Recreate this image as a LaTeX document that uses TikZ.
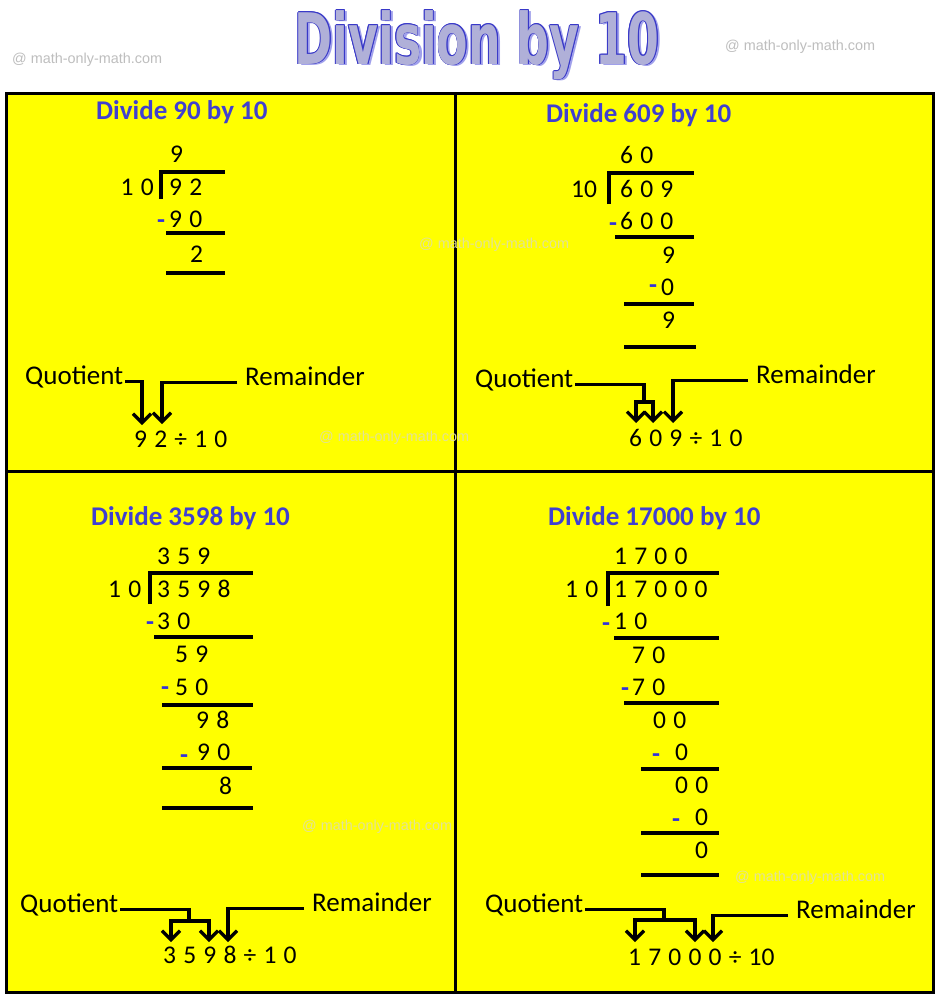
\documentclass[tikz,border=0pt]{standalone}
\usepackage{fontspec}
\setmainfont{Carlito}
\newfontfamily\dejavubold{DejaVu Sans}
\newfontfamily\wmfamily{Liberation Sans}
\usetikzlibrary{arrows.meta}
\definecolor{titleblue}{RGB}{64,64,208}
\definecolor{minusblue}{RGB}{50,50,220}
\definecolor{tfill}{RGB}{176,176,216}
\definecolor{toutline}{RGB}{56,56,200}
\definecolor{tshadow}{RGB}{160,160,235}
\definecolor{wmgray}{RGB}{190,190,190}
\definecolor{wmyellow}{RGB}{226,226,150}
\definecolor{panelyellow}{RGB}{255,255,0}
\newcommand{\numfont}{\fontsize{25.5}{30}\selectfont\spaceskip=7.2pt\relax}
\newcommand{\lblfont}{\fontsize{27}{30}\selectfont}
\newcommand{\ttlfont}{\bfseries\fontsize{27}{32}\selectfont}
\newcommand{\minfont}{\bfseries\fontsize{26}{30}\selectfont}
\newcommand{\wmfont}{\wmfamily\fontsize{14.4}{16}\selectfont}
\newcommand{\bigtitle}{\scalebox{0.645}[1]{\dejavubold\bfseries\fontsize{71}{80}\selectfont Division by 10}}
\tikzset{
  num/.style={anchor=base west, inner sep=0pt, font=\numfont},
  lbl/.style={anchor=base west, inner sep=0pt, font=\lblfont},
  ttl/.style={anchor=base west, inner sep=0pt, font=\ttlfont, text=titleblue},
  minus/.style={anchor=base west, inner sep=0pt, font=\minfont, text=minusblue, yshift=-6pt},
  rulebar/.style={line width=3.1pt},
  conn/.style={line width=3.3pt},
  tip/.style={-{Straight Barb[length=9pt,width=18pt]}},
  wm/.style={anchor=west, inner sep=0pt, font=\wmfont},
  big/.style={anchor=base, inner sep=0pt}
}
\begin{document}
\begin{tikzpicture}[x=1pt,y=-1pt]
\useasboundingbox (0,0) rectangle (938,998);
\fill[white] (0,0) rectangle (938,998);

% ---------- heading ----------
\node[wm, text=wmgray] (wm1) at (12,60) {@ math-only-math.com};
\node[wm, text=wmgray] (wm2) at (725,47) {@ math-only-math.com};
\node[big, text=tshadow] (tsh) at (480,66) {\bigtitle};
\foreach \dx/\dy in {0.9/0,-0.9/0,0/0.9,0/-0.9,0.65/0.65,0.65/-0.65,-0.65/0.65,-0.65/-0.65}{
  \node[big, text=toutline] at (477+\dx,64+\dy) {\bigtitle};
}
\node[big, text=tfill] (title) at (477,64) {\bigtitle};

% ---------- panels ----------
\fill[panelyellow] (6.5,93.5) rectangle (933.5,992);
\draw[line width=3pt] (6.5,93.5) rectangle (933.5,992);
\draw[line width=3pt] (455.5,93.5) -- (455.5,992);
\draw[line width=3pt] (6.5,471) -- (933.5,471);

% watermarks on yellow
\node[wm, text=wmyellow] (wm3) at (419,245) {@ math-only-math.com};
\node[wm, text=wmyellow] (wm4) at (319,438) {@ math-only-math.com};
\node[wm, text=wmyellow] (wm5) at (302,827) {@ math-only-math.com};
\node[wm, text=wmyellow] (wm6) at (735,878) {@ math-only-math.com};

% ---------- panel 1 ----------
\node[ttl] (h1) at (96,119) {Divide 90 by 10};
\node[num] (qt1) at (170,162) {9};
\node[num] (dv1) at (120.5,195) {1 0};
\node[num] (dd1) at (169,195) {9 2};
\node[minus] (m1a) at (157,222) {-};
\node[num] (s1a) at (169,227) {9 0};
\node[num] (r1a) at (190,262) {2};
\draw[rulebar] (161,199) -- (161,172) -- (225,172);
\draw[rulebar] (166,233) -- (225,233);
\draw[rulebar] (166,273) -- (225,273);
\node[lbl] (q1) at (25,384) {Quotient};
\node[lbl] (r1) at (245,385) {Remainder};
\node[num] (e1) at (134,447) {9 2 ÷ 1 0};
\coordinate (t1a) at (142,425);
\coordinate (t1b) at (162,424);
\draw[conn,tip] ([xshift=2pt]q1.mid east) -| (t1a);
\draw[conn,tip] ([xshift=-8pt]r1.mid west) -| (t1b);

% ---------- panel 2 ----------
\node[ttl] (h2) at (546,122) {Divide 609 by 10};
\node[num] (qt2) at (620,163) {6 0};
\node[num] (dv2) at (571,197) {10};
\node[num] (dd2) at (620,197) {6 0 9};
\node[minus] (m2a) at (609,225) {-};
\node[num] (s2a) at (620,229) {6 0 0};
\node[num] (r2a) at (662,263) {9};
\node[minus] (m2b) at (649,287) {-};
\node[num] (s2b) at (661,295) {0};
\node[num] (r2b) at (662,328) {9};
\draw[rulebar] (609,204) -- (609,173) -- (694,173);
\draw[rulebar] (615,237) -- (694,237);
\draw[rulebar] (624,304) -- (694,304);
\draw[rulebar] (624,347) -- (696,347);
\node[lbl] (q2) at (475,387) {Quotient};
\node[lbl] (r2) at (756,383) {Remainder};
\node[num] (e2) at (629,446) {6 0 9 ÷ 1 0};
\coordinate (j2) at (644,402);
\coordinate (t2a) at (636,423);
\coordinate (t2b) at (653,423);
\coordinate (t2c) at (673,423);
\draw[conn] ([xshift=2pt]q2.mid east) -| (j2);
\draw[conn,tip] (j2) -| (t2a);
\draw[conn,tip] (j2) -| (t2b);
\draw[conn,tip] ([xshift=-8pt]r2.mid west) -| (t2c);

% ---------- panel 3 ----------
\node[ttl] (h3) at (91,525) {Divide 3598 by 10};
\node[num] (qt3) at (157,564) {3 5 9};
\node[num] (dv3) at (108,597) {1 0};
\node[num] (dd3) at (157,597) {3 5 9 8};
\node[minus] (m3a) at (146,624) {-};
\node[num] (s3a) at (157,629) {3 0};
\node[num] (r3a) at (175,662) {5 9};
\node[minus] (m3b) at (161,689) {-};
\node[num] (s3b) at (175,695) {5 0};
\node[num] (r3b) at (196,728) {9 8};
\node[minus] (m3c) at (180,757) {-};
\node[num] (s3c) at (197,760) {9 0};
\node[num] (r3c) at (219,794) {8};
\draw[rulebar] (150,604) -- (150,573) -- (253,573);
\draw[rulebar] (154,637) -- (253,637);
\draw[rulebar] (162,705) -- (253,705);
\draw[rulebar] (162,768) -- (252,768);
\draw[rulebar] (162,808) -- (253,808);
\node[lbl] (q3) at (20,912) {Quotient};
\node[lbl] (r3) at (312,911) {Remainder};
\node[num] (e3) at (163,963) {3 5 9 8 ÷ 1 0};
\coordinate (j3) at (189,921);
\coordinate (t3a) at (171,942);
\coordinate (t3b) at (209,942);
\coordinate (t3c) at (228,942);
\draw[conn] ([xshift=2pt]q3.mid east) -| (j3);
\draw[conn,tip] (j3) -| (t3a);
\draw[conn,tip] (j3) -| (t3b);
\draw[conn,tip] ([xshift=-8pt]r3.mid west) -| (t3c);

% ---------- panel 4 ----------
\node[ttl] (h4) at (548,525) {Divide 17000 by 10};
\node[num] (qt4) at (614,564) {1 7 0 0};
\node[num] (dv4) at (565,597) {1 0};
\node[num] (dd4) at (614,597) {1 7 0 0 0};
\node[minus] (m4a) at (602,625) {-};
\node[num] (s4a) at (614,629) {1 0};
\node[num] (r4a) at (632,663) {7 0};
\node[minus] (m4b) at (621,690) {-};
\node[num] (s4b) at (632,695) {7 0};
\node[num] (r4b) at (653,728) {0 0};
\node[minus] (m4c) at (652,756) {-};
\node[num] (s4c) at (675,760) {0};
\node[num] (r4c) at (675,793) {0 0};
\node[minus] (m4d) at (672,821) {-};
\node[num] (s4d) at (695,825) {0};
\node[num] (r4d) at (695,858) {0};
\draw[rulebar] (608,606) -- (608,573) -- (719,573);
\draw[rulebar] (614,638) -- (719,638);
\draw[rulebar] (624,703) -- (719,703);
\draw[rulebar] (641,769) -- (719,769);
\draw[rulebar] (641,833) -- (719,833);
\draw[rulebar] (641,875) -- (719,875);
\node[lbl] (q4) at (485,912) {Quotient};
\node[lbl] (r4) at (796,918) {Remainder};
\node[num] (e4) at (628,965) {1 7 0 0 0 ÷ 10};
\coordinate (j4) at (664,920);
\coordinate (t4a) at (635,942);
\coordinate (t4b) at (695,942);
\coordinate (t4c) at (713,942);
\draw[conn] ([xshift=2pt]q4.mid east) -| (j4);
\draw[conn,tip] (j4) -| (t4a);
\draw[conn,tip] (j4) -| (t4b);
\draw[conn,tip] ([xshift=-8pt]r4.mid west) -| (t4c);
\end{tikzpicture}
\end{document}
